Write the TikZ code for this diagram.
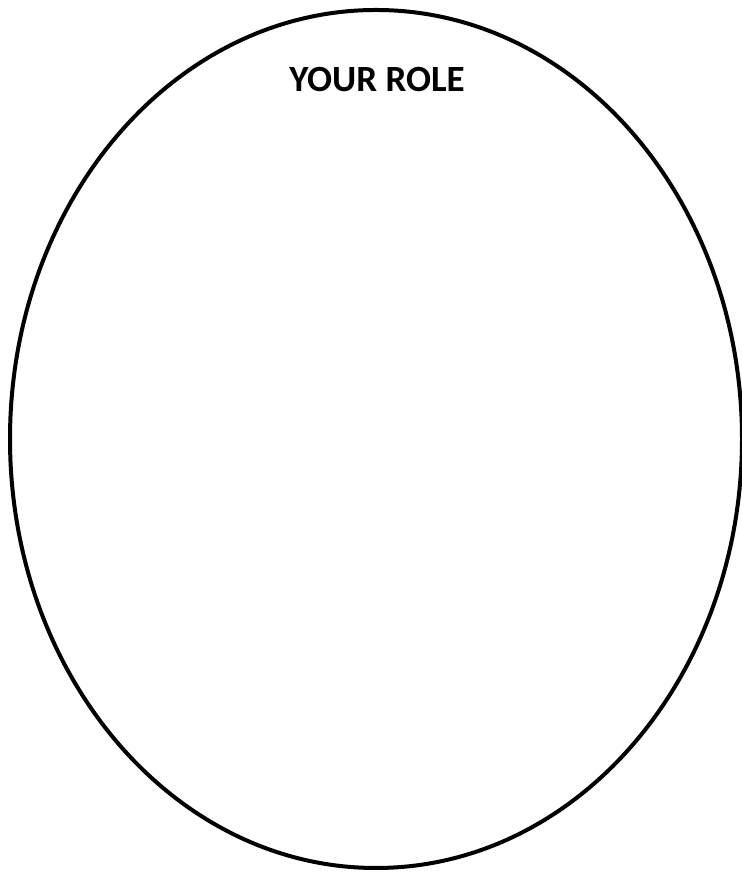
\documentclass[tikz,border=0pt]{standalone}
\usepackage{fontspec}
\setmainfont{Carlito}
\begin{document}
\begin{tikzpicture}[x=1pt,y=1pt]
\useasboundingbox (0,0) rectangle (741,872);
\tikzset{roleellipse/.style={draw=black,line width=4pt},
  roletitle/.style={font=\fontsize{37}{40}\selectfont\bfseries,anchor=base,inner sep=0pt}}
\draw[roleellipse] (376,433) ellipse [x radius=366, y radius=429];
\node[roletitle] (title) at (377,780) {YOUR ROLE};
\end{tikzpicture}
\end{document}
